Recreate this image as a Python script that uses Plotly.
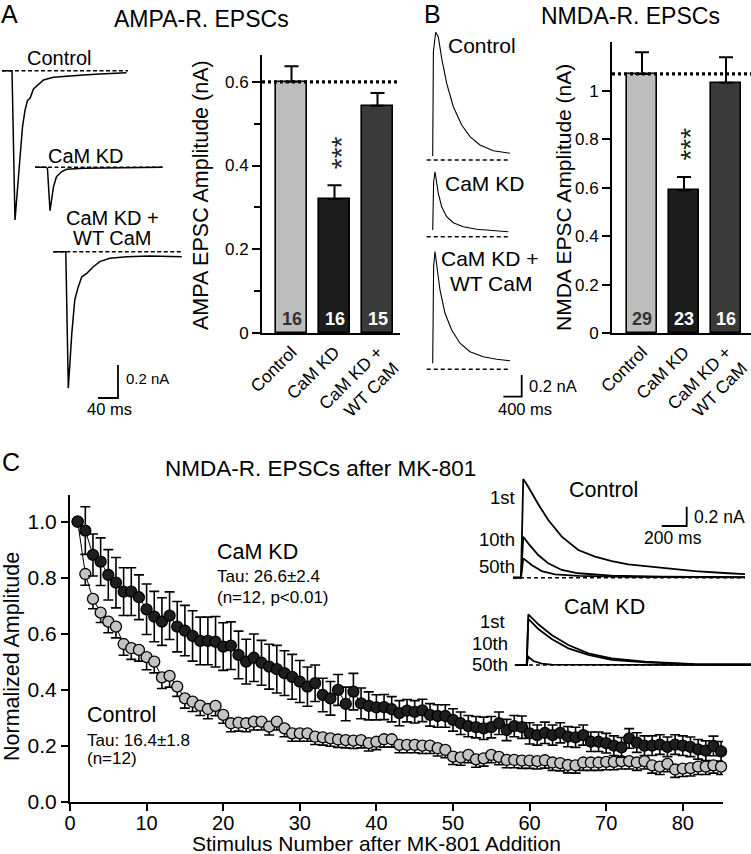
import plotly.graph_objects as go

W, H = 751, 854
FONT = "Liberation Sans, Arial, sans-serif"

# ---------------- data ----------------
groups = ["Control", "CaM KD", "CaM KD +<br>WT CaM"]
ampa_mean = [0.600, 0.320, 0.543]
ampa_sem = [0.037, 0.033, 0.030]
ampa_n = [16, 16, 15]
nmda_mean = [1.070, 0.590, 1.034]
nmda_sem = [0.090, 0.054, 0.105]
nmda_n = [29, 23, 16]
bar_colors = ["#bdbdbd", "#1c1c1c", "#3a3a3a"]
n_label_colors = ["#333333", "white", "white"]

stim = list(range(1, 86))
ctrl_norm = [1.0, 0.813, 0.724, 0.675, 0.643, 0.625, 0.563, 0.548, 0.542, 0.516,
             0.500, 0.444, 0.449, 0.411, 0.369, 0.357, 0.343, 0.331, 0.342, 0.310,
             0.280, 0.282, 0.280, 0.286, 0.286, 0.268, 0.286, 0.262, 0.244, 0.244,
             0.244, 0.232, 0.230, 0.226, 0.222, 0.220, 0.218, 0.220, 0.209, 0.214,
             0.223, 0.223, 0.203, 0.203, 0.203, 0.200, 0.200, 0.191, 0.185, 0.161,
             0.158, 0.167, 0.151, 0.155, 0.167, 0.160, 0.149, 0.149, 0.147, 0.147,
             0.145, 0.148, 0.140, 0.138, 0.131, 0.130, 0.140, 0.140, 0.140, 0.142,
             0.142, 0.145, 0.145, 0.140, 0.145, 0.130, 0.125, 0.135, 0.115, 0.118,
             0.120, 0.125, 0.125, 0.130, 0.125]
ctrl_sem = [0.0, 0.040, 0.035, 0.035, 0.040, 0.040, 0.040, 0.040, 0.040, 0.045,
            0.040, 0.040, 0.040, 0.035, 0.035, 0.035, 0.035, 0.035, 0.035, 0.030,
            0.030, 0.030, 0.030, 0.030, 0.030, 0.030, 0.030, 0.030, 0.028, 0.028,
            0.028, 0.028, 0.028, 0.028, 0.028, 0.028, 0.028, 0.028, 0.028, 0.028,
            0.028, 0.028, 0.028, 0.028, 0.028, 0.028, 0.028, 0.028, 0.028, 0.028,
            0.028, 0.028, 0.028, 0.028, 0.028, 0.028, 0.028, 0.028, 0.028, 0.028,
            0.028, 0.028, 0.028, 0.028, 0.028, 0.028, 0.028, 0.028, 0.028, 0.028,
            0.028, 0.028, 0.028, 0.028, 0.028, 0.028, 0.028, 0.028, 0.028, 0.028,
            0.028, 0.028, 0.028, 0.028, 0.028]
kd_norm = [1.0, 0.968, 0.881, 0.857, 0.810, 0.782, 0.750, 0.750, 0.730, 0.687,
           0.661, 0.643, 0.664, 0.625, 0.611, 0.592, 0.574, 0.574, 0.571, 0.554,
           0.557, 0.524, 0.500, 0.514, 0.496, 0.482, 0.473, 0.459, 0.446, 0.429,
           0.411, 0.423, 0.381, 0.369, 0.399, 0.349, 0.393, 0.351, 0.342, 0.337,
           0.338, 0.330, 0.316, 0.325, 0.321, 0.326, 0.310, 0.306, 0.306, 0.292,
           0.280, 0.270, 0.266, 0.262, 0.266, 0.280, 0.256, 0.270, 0.266, 0.244,
           0.238, 0.246, 0.238, 0.246, 0.232, 0.230, 0.238, 0.214, 0.214, 0.209,
           0.200, 0.194, 0.226, 0.211, 0.200, 0.200, 0.204, 0.196, 0.204, 0.200,
           0.196, 0.187, 0.182, 0.199, 0.180]
kd_sem = [0.0, 0.085, 0.075, 0.085, 0.090, 0.090, 0.085, 0.085, 0.080, 0.090,
          0.090, 0.085, 0.085, 0.090, 0.090, 0.090, 0.085, 0.085, 0.090, 0.085,
          0.085, 0.085, 0.080, 0.085, 0.080, 0.080, 0.085, 0.080, 0.080, 0.075,
          0.070, 0.065, 0.060, 0.060, 0.055, 0.060, 0.065, 0.055, 0.050, 0.045,
          0.045, 0.045, 0.045, 0.040, 0.040, 0.040, 0.040, 0.040, 0.040, 0.040,
          0.040, 0.038, 0.038, 0.040, 0.038, 0.040, 0.038, 0.038, 0.040, 0.038,
          0.036, 0.038, 0.036, 0.036, 0.036, 0.036, 0.036, 0.035, 0.035, 0.035,
          0.035, 0.035, 0.035, 0.035, 0.035, 0.035, 0.035, 0.035, 0.035, 0.035,
          0.035, 0.035, 0.035, 0.035, 0.035]

# example current traces (time in ms, current in nA)
ampa_ctrl_t = [0, 20, 26, 36, 41, 46, 51, 55, 57, 63, 73, 83, 103, 129, 163, 196, 249]
ampa_ctrl_i = [0, 0, -0.905, -0.54, -0.34, -0.24, -0.18, -0.17, -0.16, -0.11, -0.08,
               -0.056, -0.04, -0.032, -0.026, -0.02, -0.012]
ampa_kd_t = [0, 23, 25, 30, 37, 43, 53, 63, 97, 163, 255]
ampa_kd_i = [0, 0, -0.01, -0.263, -0.117, -0.057, -0.027, -0.012, -0.006, -0.004, 0]
ampa_wt_t = [0, 25, 30, 37, 43, 50, 57, 67, 80, 93, 113, 147, 193, 257]
ampa_wt_i = [0, 0, -0.828, -0.495, -0.291, -0.212, -0.152, -0.131, -0.091, -0.06,
             -0.04, -0.03, -0.026, -0.03]

nmda_ctrl_t = [0, 15, 65, 122, 196, 305, 449, 632, 813, 1031, 1321, 1685]
nmda_ctrl_i = [0.037, 1.0, 1.177, 1.136, 0.937, 0.707, 0.491, 0.323, 0.215, 0.138, 0.086, 0.062]
nmda_kd_t = [0, 20, 50, 122, 196, 305, 449, 667, 959, 1321, 1648]
nmda_kd_i = [0.062, 0.5, 0.599, 0.4, 0.276, 0.184, 0.129, 0.092, 0.068, 0.053, 0.046]
nmda_wt_t = [0, 20, 50, 87, 159, 268, 414, 595, 813, 1103, 1395, 1685]
nmda_wt_i = [0.055, 0.95, 1.084, 0.977, 0.731, 0.516, 0.362, 0.24, 0.162, 0.116, 0.092, 0.079]

mk_ctrl_t1 = [-64, 0, 18, 58, 138, 218, 326, 458, 592, 726, 858, 1126, 1392, 1658, 1792]
mk_ctrl_i1 = [0, 0, 1.023, 0.943, 0.761, 0.598, 0.425, 0.287, 0.218, 0.173, 0.139, 0.104,
              0.069, 0.046, 0.038]
mk_ctrl_t10 = [-64, 0, 18, 58, 138, 218, 326, 458, 726, 1126, 1792]
mk_ctrl_i10 = [0, 0, 0.425, 0.356, 0.235, 0.149, 0.08, 0.046, 0.021, 0.01, 0.005]
mk_ctrl_t50 = [-64, 0, 18, 85, 165, 272, 458, 850, 1792]
mk_ctrl_i50 = [0, 0, 0.2, 0.132, 0.069, 0.035, 0.018, 0.008, 0.004]
mk_kd_t1 = [-94, 0, 13, 93, 200, 333, 493, 680, 946, 1346, 1794]
mk_kd_i1 = [0, 0, 0.525, 0.422, 0.311, 0.207, 0.121, 0.069, 0.034, 0.01, 0.007]
mk_kd_t10 = [-94, 0, 13, 93, 200, 333, 493, 680, 946, 1346, 1794]
mk_kd_i10 = [0, 0, 0.477, 0.373, 0.269, 0.173, 0.104, 0.052, 0.028, 0.007, 0.005]
mk_kd_t50 = [-94, 0, 13, 53, 120, 200, 1794]
mk_kd_i50 = [0, 0, 0.086, 0.041, 0.014, 0.003, 0]

# ---------------- helpers ----------------
fig = go.Figure()
axes = {}
annots = []


def px(x, y):
    return x / W, 1 - y / H


def overlay(idx, ox, oy, ms_per_px, px_per_nA):
    axes[f"xaxis{idx}"] = dict(domain=[0, 1], range=[-ox * ms_per_px, (W - ox) * ms_per_px],
                               visible=False, anchor=f"y{idx}", automargin=False)
    axes[f"yaxis{idx}"] = dict(domain=[0, 1], range=[-(H - oy) / px_per_nA, oy / px_per_nA],
                               visible=False, anchor=f"x{idx}", automargin=False)

    def conv(x, y):
        return (x - ox) * ms_per_px, (oy - y) / px_per_nA
    return conv


def text(s, x, y, size, xanchor="center", yanchor="middle", angle=0, color="black", family=FONT):
    fx, fy = px(x, y)
    annots.append(dict(text=s, x=fx, y=fy, xref="paper", yref="paper", showarrow=False,
                       xanchor=xanchor, yanchor=yanchor, textangle=angle,
                       font=dict(family=family, size=size, color=color)))


def trace_line(t, i, idx, width=1.5, dash=None):
    fig.add_trace(go.Scatter(x=t, y=i, mode="lines", xaxis=f"x{idx}", yaxis=f"y{idx}",
                             line=dict(color="black", width=width, dash=dash),
                             hoverinfo="skip", showlegend=False))


def baseline(t0, t1, idx, dash="4px,2.5px", width=1.5):
    trace_line([t0, t1], [0, 0], idx, width=width, dash=dash)


def scalebar(conv, idx, cx, cy, ms, nA):
    t, i = conv(cx, cy)
    trace_line([t - ms, t, t], [i, i, i + nA], idx, width=1.8)


# ---------------- panel C main ----------------
fig.add_trace(go.Scatter(
    x=stim, y=ctrl_norm, mode="lines+markers", xaxis="x", yaxis="y",
    line=dict(color="black", width=1),
    marker=dict(size=11, color="#c4c4c4", line=dict(color="black", width=1.3)),
    error_y=dict(type="data", symmetric=False, array=[0] * len(stim), arrayminus=ctrl_sem,
                 color="black", thickness=1.6, width=5),
    showlegend=False, cliponaxis=False))
fig.add_trace(go.Scatter(
    x=stim, y=kd_norm, mode="lines+markers", xaxis="x", yaxis="y",
    line=dict(color="black", width=1),
    marker=dict(size=11, color="#1e1e1e", line=dict(color="black", width=1.3)),
    error_y=dict(type="data", array=kd_sem, color="black", thickness=1.6, width=5),
    showlegend=False, cliponaxis=False))

axes["xaxis"] = dict(domain=[70 / W, 723 / W], range=[0, 85.25], anchor="y", automargin=False,
                     showline=True, linewidth=2, linecolor="black", ticks="outside",
                     ticklen=7, tickwidth=2, tickcolor="black", tickvals=list(range(0, 90, 10)),
                     ticklabelstandoff=-5,
                     tickfont=dict(family=FONT, size=20), showgrid=False, zeroline=False)
axes["yaxis"] = dict(domain=[1 - 801.7 / H, 1 - 495 / H], range=[0, 1.095], anchor="x",
                     automargin=False,
                     showline=True, linewidth=2, linecolor="black", ticks="outside",
                     ticklen=7, tickwidth=2, tickcolor="black", tickvals=[0, 0.2, 0.4, 0.6, 0.8, 1.0],
                     tickformat=".1f", tickfont=dict(family=FONT, size=21),
                     showgrid=False, zeroline=False)

# ---------------- bar charts ----------------
def bars(idx, means, sems, ns, dom_x, dom_y, xr, yr, tickvals, ticktext, minor):
    xs = [0, 1, 2]
    fig.add_trace(go.Bar(
        x=xs, y=means, xaxis=f"x{idx}", yaxis=f"y{idx}", width=0.72,
        marker=dict(color=bar_colors, line=dict(color="black", width=1.6)),
        error_y=dict(type="data", symmetric=False, array=sems, arrayminus=[0, 0, 0],
                     color="black", thickness=2, width=7),
        showlegend=False, hoverinfo="skip"))
    axes[f"xaxis{idx}"] = dict(domain=dom_x, range=xr, anchor=f"y{idx}", showline=True,
                               automargin=False, ticklabeloverflow="allow",
                               linewidth=2, linecolor="black", ticks="", tickvals=xs,
                               ticktext=groups, tickangle=-45,
                               tickfont=dict(family=FONT, size=17.5), showgrid=False,
                               zeroline=False)
    ax = dict(domain=dom_y, range=yr, anchor=f"x{idx}", showline=True, linewidth=2,
              automargin=False,
              linecolor="black", ticks="outside", ticklen=8, tickwidth=2, tickcolor="black",
              tickvals=tickvals, ticktext=ticktext, tickfont=dict(family=FONT, size=17),
              showgrid=False, zeroline=False)
    if minor:
        ax["minor"] = dict(dtick=minor, ticks="outside", ticklen=6, tickwidth=2,
                           tickcolor="black", showgrid=False)
    axes[f"yaxis{idx}"] = ax
    # control mean dotted reference
    fig.add_shape(type="line", xref=f"x{idx} domain", x0=0, x1=1, yref=f"y{idx}",
                  y0=means[0], y1=means[0], line=dict(color="black", width=3.2, dash="3px,3px"))
    for k in range(3):
        annots.append(dict(text=f"<b>{ns[k]}</b>", x=xs[k], y=0, xref=f"x{idx}", yref=f"y{idx}",
                           showarrow=False, yanchor="bottom", yshift=2,
                           font=dict(family=FONT, size=18, color=n_label_colors[k])))
    annots.append(dict(text="***", x=1, y=means[1] + sems[1], xref=f"x{idx}", yref=f"y{idx}",
                       showarrow=False, textangle=-90, xanchor="center", yanchor="bottom",
                       xshift=7, yshift=14, font=dict(family=FONT, size=28, color="#222")))


bars(2, ampa_mean, ampa_sem, ampa_n, [262 / W, 400 / W], [1 - 333 / H, 1 - 55 / H],
     [-0.686, 2.523], [0, 0.664], [0, 0.2, 0.4, 0.6], ["0", "0.2", "0.4", "0.6"], 0.1)
bars(3, nmda_mean, nmda_sem, nmda_n, [612 / W, 1.0], [1 - 333 / H, 1 - 42 / H],
     [-0.714, 2.595], [0, 1.202], [0, 0.2, 0.4, 0.6, 0.8, 1.0],
     ["0", "0.2", "0.4", "0.6", "0.8", "1"], None)

# ---------------- example traces ----------------
cA1 = overlay(4, 2, 70.7, 2.0, 165)
cA2 = overlay(5, 35, 167.3, 2.0, 165)
cA3 = overlay(6, 53.3, 251.7, 2.0, 165)
baseline(ampa_ctrl_t[0], 252, 4)
trace_line(ampa_ctrl_t, ampa_ctrl_i, 4)
baseline(ampa_kd_t[0], ampa_kd_t[-1], 5)
trace_line(ampa_kd_t, ampa_kd_i, 5)
baseline(ampa_wt_t[0], ampa_wt_t[-1], 6)
trace_line(ampa_wt_t, ampa_wt_i, 6)
scalebar(cA3, 6, 118, 398, 40, 0.2)

cB1 = overlay(7, 432.7, 160, 21.8, 108.5)
cB2 = overlay(8, 432.7, 236.7, 21.8, 108.5)
cB3 = overlay(9, 432.7, 369.3, 21.8, 108.5)
for idx, t, i in [(7, nmda_ctrl_t, nmda_ctrl_i), (8, nmda_kd_t, nmda_kd_i), (9, nmda_wt_t, nmda_wt_i)]:
    baseline(-130, t[-1], idx, dash="4px,3px", width=1.6)
    trace_line(t, i, idx, width=1.1)
scalebar(cB3, 9, 521.7, 396.7, 400, 0.2)

cC1 = overlay(10, 521, 577.7, 8.0, 96.5)
cC2 = overlay(11, 526.7, 665, 8.0, 96.5)
baseline(mk_ctrl_t1[0], mk_ctrl_t1[-1], 10, dash="4px,3px")
baseline(mk_kd_t1[0], mk_kd_t1[-1], 11, dash="4px,3px")
for t, i in [(mk_ctrl_t1, mk_ctrl_i1), (mk_ctrl_t10, mk_ctrl_i10), (mk_ctrl_t50, mk_ctrl_i50)]:
    trace_line(t, i, 10, width=1.8)
for t, i in [(mk_kd_t1, mk_kd_i1), (mk_kd_t10, mk_kd_i10), (mk_kd_t50, mk_kd_i50)]:
    trace_line(t, i, 11, width=1.8)
scalebar(cC1, 10, 686.7, 526, 200, 0.2)

# ---------------- text ----------------
text("A", 9, 14, 25)
text("B", 432, 14, 25)
text("C", 11, 462, 25)
text("AMPA-R. EPSCs", 201, 19, 23)
text("NMDA-R. EPSCs", 630, 16, 23)
text("NMDA-R. EPSCs after MK-801", 320, 468, 22.5)

text("Control", 59.5, 58, 20)
text("CaM KD", 85.5, 156, 20)
text("CaM KD +", 112, 218, 20)
text("WT CaM", 112.5, 238, 20)
text("0.2 nA", 124, 379, 15, xanchor="left")
text("40 ms", 110, 409, 16.5)

text("Control", 446, 46, 21, xanchor="left")
text("CaM KD", 443, 183, 21, xanchor="left")
text("CaM KD +", 489.5, 258, 21)
text("WT CaM", 491, 283, 21)
text("0.2 nA", 527, 386, 16.5, xanchor="left")
text("400 ms", 525, 409, 16.5)

text("AMPA EPSC Amplitude (nA)", 201, 195, 21.5, angle=-90)
text("NMDA EPSC Amplitude (nA)", 563, 198, 21, angle=-90)
text("Normalized Amplitude", 12, 657, 21.5, angle=-90)
text("Stimulus Number after MK-801 Addition", 376, 843, 21)

text("CaM KD", 215, 552, 21.5, xanchor="left")
text("Tau: 26.6±2.4", 215, 576, 17, xanchor="left")
text("(n=12, p<0.01)", 215, 597, 17, xanchor="left")
text("Control", 85, 715, 21.5, xanchor="left")
text("Tau: 16.4±1.8", 85, 740, 17, xanchor="left")
text("(n=12)", 85, 758, 17, xanchor="left")

text("Control", 603, 490, 21.5)
text("CaM KD", 604, 607, 21.5)
text("1st", 517, 497, 18.5, xanchor="right")
text("10th", 517, 539, 18.5, xanchor="right")
text("50th", 517, 566, 18.5, xanchor="right")
text("1st", 507, 621, 18.5, xanchor="right")
text("10th", 510, 643, 18.5, xanchor="right")
text("50th", 510, 664, 18.5, xanchor="right")
text("0.2 nA", 692, 517, 17.5, xanchor="left")
text("200 ms", 673, 538, 17.5)

fig.update_layout(template="none", width=W, height=H, margin=dict(l=0, r=0, t=0, b=0, pad=0),
                  paper_bgcolor="white", plot_bgcolor="rgba(0,0,0,0)",
                  font=dict(family=FONT, color="black"), showlegend=False,
                  annotations=annots, bargap=0, **axes)
fig.write_html("out.html", config={"displayModeBar": False},
               post_script="document.body.style.margin='0';document.body.style.overflow='hidden';")
